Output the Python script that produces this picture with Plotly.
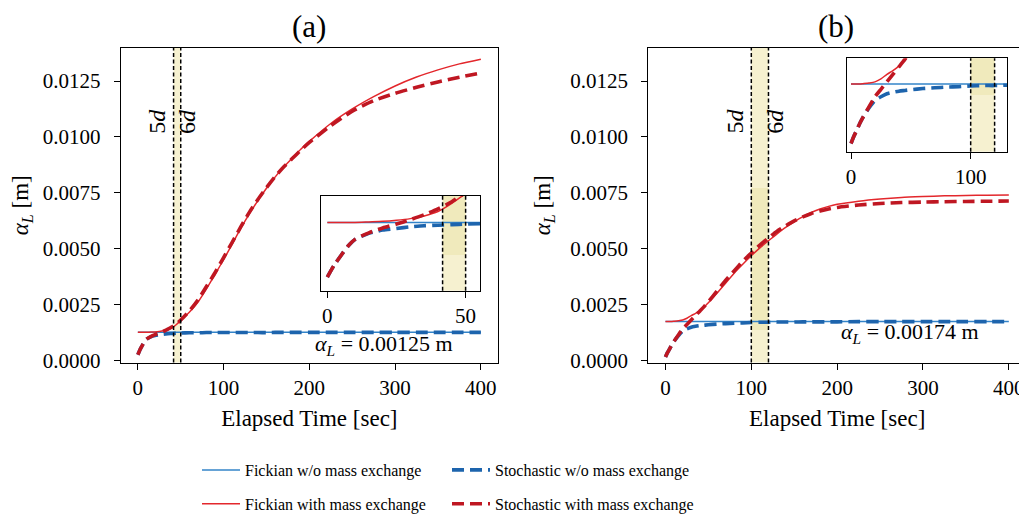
import plotly.graph_objects as go

# ---------------- data ----------------
T = [0, 2.5, 5, 7.5, 10, 15, 20, 25, 30, 35, 40, 45, 50, 60, 70, 80, 90, 100, 110, 120,
     130, 140, 150, 160, 170, 180, 190, 200, 225, 250, 275, 300, 325, 350, 375, 400]
T_CONST = [0, 400]

# panel (a)
A_FICK_WO = [0.00125, 0.00125]
A_FICK_WITH = [0.00125, 0.00125, 0.00125, 0.00125, 0.00125, 0.00126, 0.00127, 0.00129, 0.00132,
               0.00137, 0.00145, 0.00160, 0.00178, 0.00215, 0.00260, 0.00320, 0.00385, 0.00450,
               0.00520, 0.00590, 0.00655, 0.00715, 0.00770, 0.00820, 0.00865, 0.00905, 0.00945,
               0.00980, 0.01060, 0.01125, 0.01180, 0.01228, 0.01268, 0.01300, 0.01327, 0.01348]
A_STOCH_WO = [0.00025, 0.00047, 0.00065, 0.00082, 0.00094, 0.00105, 0.00111, 0.00114, 0.00117,
              0.00119, 0.00120, 0.00121, 0.00122, 0.00123, 0.00123, 0.00124, 0.00124, 0.00124,
              0.00124, 0.00124, 0.00124, 0.00124, 0.00124, 0.00125, 0.00125, 0.00125, 0.00125,
              0.00125, 0.00125, 0.00125, 0.00125, 0.00125, 0.00125, 0.00125, 0.00125, 0.00125]
A_STOCH_WITH = [0.00025, 0.00047, 0.00065, 0.00082, 0.00094, 0.00106, 0.00115, 0.00122, 0.00130,
                0.00139, 0.00150, 0.00163, 0.00180, 0.00220, 0.00270, 0.00330, 0.00392, 0.00460,
                0.00528, 0.00597, 0.00662, 0.00720, 0.00773, 0.00822, 0.00865, 0.00903, 0.00940,
                0.00975, 0.01050, 0.01115, 0.01162, 0.01195, 0.01222, 0.01246, 0.01267, 0.01286]

# panel (b)
B_FICK_WO = [0.00174, 0.00174]
B_FICK_WITH = [0.00174, 0.00174, 0.00174, 0.00174, 0.00175, 0.00177, 0.00180, 0.00188, 0.00200,
               0.00210, 0.00222, 0.00238, 0.00258, 0.00300, 0.00345, 0.00390, 0.00430, 0.00468,
               0.00503, 0.00535, 0.00566, 0.00595, 0.00620, 0.00643, 0.00662, 0.00677, 0.00689,
               0.00698, 0.00712, 0.00722, 0.00729, 0.00733, 0.00736, 0.00738, 0.00739, 0.00740]
B_STOCH_WO = [0.00015, 0.00035, 0.00052, 0.00070, 0.00085, 0.00110, 0.00130, 0.00140, 0.00148,
              0.00152, 0.00155, 0.00157, 0.00159, 0.00162, 0.00164, 0.00166, 0.00167, 0.00169,
              0.00170, 0.00170, 0.00171, 0.00171, 0.00171, 0.00172, 0.00172, 0.00172, 0.00172,
              0.00172, 0.00173, 0.00173, 0.00173, 0.00173, 0.00173, 0.00173, 0.00173, 0.00173]
B_STOCH_WITH = [0.00015, 0.00035, 0.00052, 0.00070, 0.00085, 0.00113, 0.00140, 0.00160, 0.00180,
                0.00200, 0.00220, 0.00240, 0.00262, 0.00310, 0.00357, 0.00400, 0.00443, 0.00480,
                0.00516, 0.00548, 0.00578, 0.00602, 0.00624, 0.00642, 0.00657, 0.00668, 0.00677,
                0.00684, 0.00695, 0.00702, 0.00706, 0.00708, 0.00710, 0.00711, 0.00712, 0.00713]

D_A = [41.67, 50.0]     # 5d, 6d for panel (a)
D_B = [100.0, 120.0]    # 5d, 6d for panel (b)
ALPHA_A = "0.00125"
ALPHA_B = "0.00174"

SERIES_NAMES = ["Fickian w/o mass exchange", "Fickian with mass exchange",
                "Stochastic w/o mass exchange", "Stochastic with mass exchange"]

# ---------------- style ----------------
FONT = "Liberation Serif"
C_BLUE_S = "#3384c9"
C_RED_S = "#e3272c"
C_BLUE_D = "#1d64ad"
C_RED_D = "#bf1722"
SHADE = "rgb(246,241,208)"
SHADE_DARK = "rgb(240,234,188)"
OFF = 8                 # page body margin of the html page
W, H = 1027 - OFF, 516 - OFF


def px_x(p):
    return (p - OFF) / W


def px_y(p):
    return 1 - (p - OFF) / H


fig = go.Figure()

panels = [
    ("x", "y", "x3", "y3", A_FICK_WO, A_FICK_WITH, A_STOCH_WO, A_STOCH_WITH, True),
    ("x2", "y2", "x4", "y4", B_FICK_WO, B_FICK_WITH, B_STOCH_WO, B_STOCH_WITH, False),
]

for xm, ym, xi, yi, fwo, fwi, swo, swi, show in panels:
    for xa, ya, main in [(xm, ym, True), (xi, yi, False)]:
        leg = show and main
        fig.add_trace(go.Scatter(x=T_CONST, y=fwo, mode="lines", xaxis=xa, yaxis=ya,
                                 line=dict(color=C_BLUE_S, width=1.5),
                                 name=SERIES_NAMES[0], showlegend=leg, legend="legend",
                                 legendgroup="g1"))
        fig.add_trace(go.Scatter(x=T, y=fwi, mode="lines", xaxis=xa, yaxis=ya,
                                 line=dict(color=C_RED_S, width=1.5, shape="spline", smoothing=0.6),
                                 name=SERIES_NAMES[1], showlegend=leg, legend="legend",
                                 legendgroup="g2"))
        fig.add_trace(go.Scatter(x=T, y=swo, mode="lines", xaxis=xa, yaxis=ya,
                                 line=dict(color=C_BLUE_D, width=3.6, dash="12px,6px",
                                           shape="spline", smoothing=0.6),
                                 name=SERIES_NAMES[2], showlegend=leg, legend="legend2",
                                 legendgroup="g3"))
        fig.add_trace(go.Scatter(x=T, y=swi, mode="lines", xaxis=xa, yaxis=ya,
                                 line=dict(color=C_RED_D, width=3.6, dash="12px,6px",
                                           shape="spline", smoothing=0.6),
                                 name=SERIES_NAMES[3], showlegend=leg, legend="legend2",
                                 legendgroup="g4"))

axis_common = dict(showline=True, mirror=True, linecolor="black", linewidth=1.2,
                   ticks="outside", ticklen=6, tickwidth=1.2, tickcolor="black",
                   showgrid=False, zeroline=False,
                   tickfont=dict(family=FONT, size=21, color="black"))
title_font = dict(family=FONT, size=23, color="black")
YT = [0, 0.0025, 0.005, 0.0075, 0.01, 0.0125]
XT = [0, 100, 200, 300, 400]

dom_y_main = [px_y(362.5), px_y(48)]
fig.update_layout(
    xaxis=dict(domain=[px_x(120.7), px_x(498)], range=[-20, 420], anchor="y", tickvals=XT,
               title=dict(text="Elapsed Time [sec]", font=title_font, standoff=11),
               **axis_common),
    yaxis=dict(domain=dom_y_main, range=[-0.0001, 0.01398], anchor="x",
               tickvals=YT, tickformat=".4f", ticklabelstandoff=9,
               title=dict(text="<i>α<sub>L</sub></i> [m]", font=title_font, standoff=13),
               **axis_common),
    xaxis2=dict(domain=[px_x(648.3), px_x(1026)], range=[-20, 420], anchor="y2", tickvals=XT,
                title=dict(text="Elapsed Time [sec]", font=title_font, standoff=11),
                **axis_common),
    yaxis2=dict(domain=dom_y_main, range=[-0.0001, 0.01398], anchor="x2",
                tickvals=YT, tickformat=".4f", ticklabelstandoff=9,
                title=dict(text="<i>α<sub>L</sub></i> [m]", font=title_font, standoff=13),
                **axis_common),
    xaxis3=dict(domain=[px_x(321), px_x(480)], range=[-2.3, 55.2], anchor="y3",
                tickvals=[0, 50], **axis_common),
    yaxis3=dict(domain=[px_y(290.7), px_y(195.7)], range=[0.0, 0.00174], anchor="x3",
                showline=True, mirror=True, linecolor="black", linewidth=1.2,
                showticklabels=False, ticks="", showgrid=False, zeroline=False),
    xaxis4=dict(domain=[px_x(847.3), px_x(1007.3)], range=[-3.1, 130.6], anchor="y4",
                tickvals=[0, 100], **axis_common),
    yaxis4=dict(domain=[px_y(151.7), px_y(58.3)], range=[-0.00007, 0.00243], anchor="x4",
                showline=True, mirror=True, linecolor="black", linewidth=1.2,
                showticklabels=False, ticks="", showgrid=False, zeroline=False),
)

shapes = []


def band(xref, yref, d, dark_range=None):
    shapes.append(dict(type="rect", xref=xref, yref=yref + " domain", x0=d[0], x1=d[1], y0=0, y1=1,
                       fillcolor=SHADE, line=dict(width=0), layer="below"))
    if dark_range is not None:
        shapes.append(dict(type="rect", xref=xref, yref=yref + " domain", x0=d[0], x1=d[1],
                           y0=dark_range[0], y1=dark_range[1],
                           fillcolor=SHADE_DARK, line=dict(width=0), layer="below"))
    for xv in d:
        shapes.append(dict(type="line", xref=xref, yref=yref + " domain", x0=xv, x1=xv, y0=0, y1=1,
                           line=dict(color="black", width=1.5, dash="4px,2.5px"), layer="above"))


band("x", "y", D_A)
band("x3", "y3", D_A, (0.376, 1.0))
band("x2", "y2", D_B, (0.103, 0.555))
band("x4", "y4", D_B, (0.607, 1.0))
fig.update_layout(shapes=shapes)

ann = []
lab_font = dict(family=FONT, size=24, color="black")
for xr, yr, d in [("x", "y", D_A), ("x2", "y2", D_B)]:
    ann.append(dict(x=d[0], y=0.0107, xref=xr, yref=yr, text="5<i>d</i>", textangle=-90,
                    showarrow=False, xanchor="right", yanchor="middle", xshift=-1, font=lab_font))
    ann.append(dict(x=d[1], y=0.0107, xref=xr, yref=yr, text="6<i>d</i>", textangle=-90,
                    showarrow=False, xanchor="left", yanchor="middle", xshift=-8, font=lab_font))

ann_font = dict(family=FONT, size=22, color="black")
ann.append(dict(x=287, y=0.00068, xref="x", yref="y", showarrow=False,
                text="<i>α<sub>L</sub></i> = " + ALPHA_A + " m", font=ann_font))
ann.append(dict(x=285, y=0.00122, xref="x2", yref="y2", showarrow=False,
                text="<i>α<sub>L</sub></i> = " + ALPHA_B + " m", font=ann_font))
for lbl, cx in [("(a)", 309), ("(b)", 836)]:
    ann.append(dict(x=px_x(cx), y=px_y(26), xref="paper", yref="paper", text=lbl, showarrow=False,
                    xanchor="center", yanchor="middle",
                    font=dict(family=FONT, size=31, color="black")))
fig.update_layout(annotations=ann)

legend_common = dict(font=dict(family=FONT, size=16, color="black"), bgcolor="rgba(0,0,0,0)",
                     orientation="v", xanchor="left", yanchor="top", tracegroupgap=10,
                     itemwidth=38)
fig.update_layout(
    legend=dict(x=px_x(197), y=px_y(453), **legend_common),
    legend2=dict(x=px_x(447), y=px_y(453), **legend_common),
)

fig.update_layout(width=W, height=H, margin=dict(l=0, r=0, t=0, b=0, autoexpand=False),
                  plot_bgcolor="rgba(0,0,0,0)", paper_bgcolor="white",
                  font=dict(family=FONT, color="black"))

fig.write_html("out.html")
